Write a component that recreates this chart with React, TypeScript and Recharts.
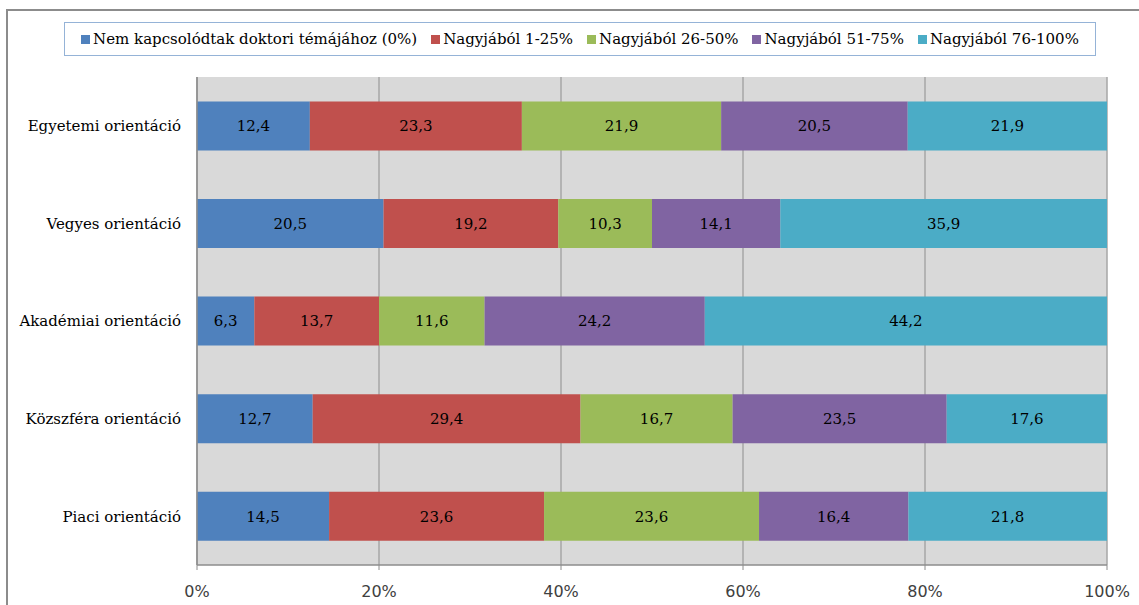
import { BarChart, Bar, XAxis, YAxis, CartesianGrid, LabelList } from "recharts";

const categories = [
  "Egyetemi orientáció",
  "Vegyes orientáció",
  "Akadémiai orientáció",
  "Közszféra orientáció",
  "Piaci orientáció",
];

const seriesNames = [
  "Nem kapcsolódtak doktori témájához (0%)",
  "Nagyjából 1-25%",
  "Nagyjából 26-50%",
  "Nagyjából 51-75%",
  "Nagyjából 76-100%",
];

const colors = ["#4f81bd", "#c0504d", "#9bbb59", "#8064a2", "#4bacc6"];

const nem = [12.4, 20.5, 6.3, 12.7, 14.5];
const n1_25 = [23.3, 19.2, 13.7, 29.4, 23.6];
const n26_50 = [21.9, 10.3, 11.6, 16.7, 23.6];
const n51_75 = [20.5, 14.1, 24.2, 23.5, 16.4];
const n76_100 = [21.9, 35.9, 44.2, 17.6, 21.8];

const xTicks = [0, 0.2, 0.4, 0.6, 0.8, 1];

const seriesValues = [nem, n1_25, n26_50, n51_75, n76_100];
const keys = ["s0", "s1", "s2", "s3", "s4"];

const data = categories.map((name, i) => {
  const row: Record<string, string | number> = { name };
  keys.forEach((k, j) => {
    row[k] = seriesValues[j][i];
  });
  return row;
});

const serif = "'DejaVu Serif', serif";
const sans = "'DejaVu Sans', sans-serif";

const fmt = (v: any) => String(v).replace(".", ",");

const LegendBox = () => (
  <div
    style={{
      position: "absolute",
      left: 64,
      top: 22,
      width: 1030,
      height: 32,
      border: "1px solid #95b3d7",
      background: "#fff",
      display: "flex",
      alignItems: "center",
      justifyContent: "center",
      fontFamily: serif,
      fontSize: 15,
      color: "#000",
      whiteSpace: "nowrap",
    }}
  >
    {seriesNames.map((n, i) => (
      <span key={n} style={{ display: "inline-flex", alignItems: "center", marginRight: i < 4 ? 14 : 0 }}>
        <span style={{ width: 9, height: 9, background: colors[i], display: "inline-block", marginRight: 3 }} />
        {n}
      </span>
    ))}
  </div>
);

export default function App() {
  return (
    <div style={{ position: "absolute", left: 0, top: 0, width: 1139, height: 605, background: "#fff", overflow: "hidden" }}>
      <div
        style={{
          position: "absolute",
          left: 6,
          top: 9,
          width: 1200,
          height: 700,
          border: "2px solid #8c8c8c",
        }}
      />
      <BarChart
        width={1139}
        height={605}
        data={data}
        layout="vertical"
        stackOffset="expand"
        barCategoryGap="25%"
        margin={{ top: 77, right: 32, bottom: 10, left: 0 }}
        style={{ position: "absolute", left: 0, top: 0 }}
      >
        <CartesianGrid horizontal={false} stroke="#a6a6a6" strokeWidth={1.5} fill="#d9d9d9" />
        <XAxis
          type="number"
          domain={[0, 1]}
          ticks={xTicks}
          tickFormatter={(v: number) => `${Math.round(v * 100)}%`}
          axisLine={{ stroke: "#8c8c8c", strokeWidth: 1.5 }}
          tickLine={{ stroke: "#8c8c8c" }}
          tickSize={5}
          tickMargin={16}
          height={30}
          tick={{ fill: "#404040", fontFamily: sans, fontSize: 16 }}
          interval={0}
        />
        <YAxis
          type="category"
          dataKey="name"
          width={197}
          axisLine={{ stroke: "#8c8c8c", strokeWidth: 1.5 }}
          tickLine={false}
          tickSize={8}
          tickMargin={8}
          tick={{ fill: "#000", fontFamily: serif, fontSize: 15 }}
        />
        {keys.map((k, i) => (
          <Bar key={k} dataKey={k} name={seriesNames[i]} stackId="a" fill={colors[i]} isAnimationActive={false}>
            <LabelList
              dataKey={k}
              position="center"
              formatter={fmt}
              style={{ fill: "#000", fontFamily: serif, fontSize: 15 }}
            />
          </Bar>
        ))}
      </BarChart>
      <LegendBox />
    </div>
  );
}
